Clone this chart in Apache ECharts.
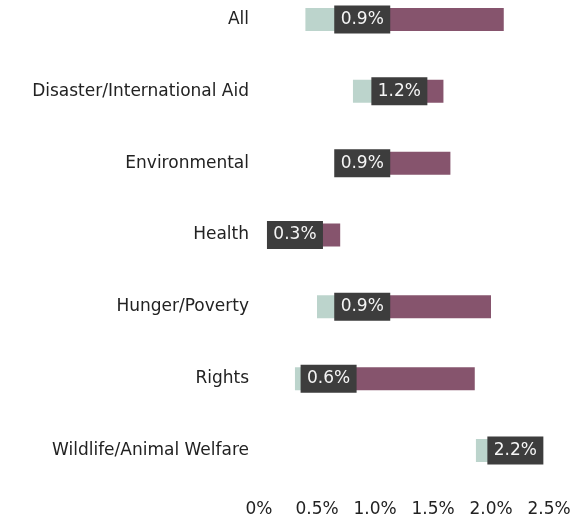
<!DOCTYPE html>
<html><head><meta charset="utf-8">
<script src="https://cdn.jsdelivr.net/npm/echarts@6/dist/echarts.min.js"></script>
<style>html,body{margin:0;padding:0;background:#fff}#c{width:578px;height:523px}</style>
</head><body><div id="c"></div>
<script>
const categories = ['All','Disaster/International Aid','Environmental','Health','Hunger/Poverty','Rights','Wildlife/Animal Welfare'];
const lowValues = [0.40, 0.81, 0.70, 0.20, 0.50, 0.31, 1.87];
const midValues = [0.89, 1.21, 0.89, 0.31, 0.89, 0.60, 2.21];
const highValues = [2.11, 1.59, 1.65, 0.70, 2.00, 1.86, 2.25];
const tickLabels = ['0%','0.5%','1.0%','1.5%','2.0%','2.5%'];

const FONT = 'DejaVu Sans';
const chart = echarts.init(document.getElementById('c'), null, {renderer:'canvas'});
const base = lowValues;
const lowPart = midValues.map((m,i)=>m-lowValues[i]);
const highPart = highValues.map((h,i)=>h-midValues[i]);
chart.setOption({
  animation:false,
  grid:{left:259, right:29, top:19.5, height:431},
  xAxis:{type:'value', min:0, max:2.5, interval:0.5,
    axisLine:{show:false}, axisTick:{show:false}, splitLine:{show:false},
    axisLabel:{margin:51, color:'#222', fontFamily:FONT, fontSize:17,
      formatter:(v)=>tickLabels[Math.round(v/0.5)]}},
  yAxis:{type:'category', data:categories, inverse:true, boundaryGap:false,
    axisLine:{show:false}, axisTick:{show:false}, splitLine:{show:false},
    axisLabel:{margin:10, color:'#222', fontFamily:FONT, fontSize:17}},
  series:[
    {type:'bar', stack:'r', data:base, barWidth:23, itemStyle:{color:'transparent'}, silent:true},
    {type:'bar', stack:'r', data:lowPart, barWidth:23, itemStyle:{color:'#bcd4cc'}},
    {type:'bar', stack:'r', data:highPart, barWidth:23, itemStyle:{color:'#86546d'}},
    {type:'scatter', data:midValues.map((m,i)=>[m,categories[i]]), symbol:'rect', symbolSize:[56,28],
      itemStyle:{color:'#3d3d3d', opacity:1}, z:5,
      label:{show:true, position:'inside', color:'#f5f5f5', fontFamily:FONT, fontSize:17,
        formatter:(p)=>p.value[0].toFixed(1)+'%'}}
  ]
});
</script></body></html>
